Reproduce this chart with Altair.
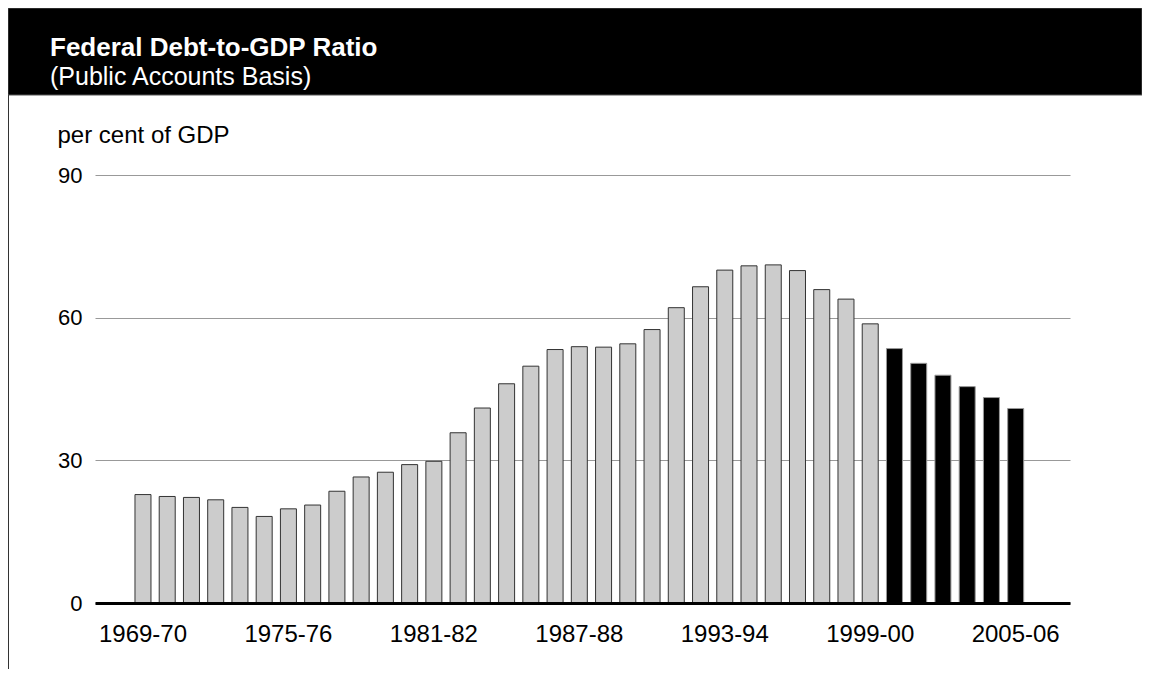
import altair as alt
import pandas as pd

years = ["1969-70", "1970-71", "1971-72", "1972-73", "1973-74", "1974-75",
         "1975-76", "1976-77", "1977-78", "1978-79", "1979-80", "1980-81",
         "1981-82", "1982-83", "1983-84", "1984-85", "1985-86", "1986-87",
         "1987-88", "1988-89", "1989-90", "1990-91", "1991-92", "1992-93",
         "1993-94", "1994-95", "1995-96", "1996-97", "1997-98", "1998-99",
         "1999-00", "2000-01", "2001-02", "2002-03", "2003-04", "2004-05",
         "2005-06"]
debt_ratio = [22.8, 22.4, 22.2, 21.7, 20.1, 18.2, 19.8, 20.6, 23.5, 26.5,
              27.5, 29.1, 29.8, 35.8, 41.0, 46.1, 49.8, 53.3, 53.9, 53.8,
              54.5, 57.5, 62.1, 66.5, 70.0, 70.9, 71.1, 69.9, 65.9, 63.9,
              58.7, 53.5, 50.4, 47.9, 45.5, 43.2, 40.9]
status = ["Actual"] * 31 + ["Projection"] * 6
tick_labels = ["1969-70", "1975-76", "1981-82", "1987-88", "1993-94",
               "1999-00", "2005-06"]
y_ticks = [0, 30, 60, 90]
# empty slots at both ends of the category axis (no bars drawn there)
x_domain = ["_pad_left"] + years + ["_pad_right"]

FONT = "Liberation Sans, Arial, Helvetica, sans-serif"

df = pd.DataFrame({"year": years, "ratio": debt_ratio, "status": status})
one = pd.DataFrame({"k": [0]})

bars = alt.Chart(df).mark_bar(strokeWidth=1).encode(
    x=alt.X("year:N",
            scale=alt.Scale(domain=x_domain, paddingInner=0.34, paddingOuter=0.78,
                            align=0.416),
            axis=alt.Axis(values=tick_labels, labelAngle=0, title=None, ticks=False,
                          tickSize=0, domainColor="black", domainWidth=3, grid=False,
                          labelFont=FONT, labelFontSize=24, labelColor="black",
                          labelPadding=19, zindex=1)),
    y=alt.Y("ratio:Q",
            scale=alt.Scale(domain=[0, 90], nice=False, zero=True),
            axis=alt.Axis(values=y_ticks, grid=True, gridColor="#999999", gridWidth=1,
                          domain=False, ticks=False, tickSize=0, labelPadding=13,
                          labelFont=FONT, labelFontSize=22, labelColor="black",
                          title="per cent of GDP", titleAngle=0, titleAlign="left",
                          titleBaseline="alphabetic", titleX=-38, titleY=-33,
                          titleFont=FONT, titleFontSize=24, titleFontWeight="normal",
                          titleColor="black", zindex=0)),
    color=alt.Color("status:N", scale=alt.Scale(domain=["Actual", "Projection"],
                                                range=["#cccccc", "#000000"]), legend=None),
    stroke=alt.Stroke("status:N", scale=alt.Scale(domain=["Actual", "Projection"],
                                                  range=["#333333", "#999999"]), legend=None),
)

header = alt.Chart(one).mark_rect(color="black", stroke="#555555", strokeWidth=1).encode(
    x=alt.value(-87), x2=alt.value(1047), y=alt.value(-167), y2=alt.value(-80))

title = alt.Chart(one).mark_text(text="Federal Debt-to-GDP Ratio", align="left",
                                 baseline="alphabetic", font=FONT, fontSize=26,
                                 fontWeight="bold", color="white").encode(
    x=alt.value(-45), y=alt.value(-119))

subtitle = alt.Chart(one).mark_text(text="(Public Accounts Basis)", align="left",
                                    baseline="alphabetic", font=FONT, fontSize=25,
                                    color="white").encode(
    x=alt.value(-45), y=alt.value(-90.5))

border = alt.Chart(one).mark_rule(color="#333333", strokeWidth=1).encode(
    x=alt.value(-86.5), y=alt.value(-80), y2=alt.value(494))

chart = alt.layer(header, title, subtitle, border, bars).properties(
    width=975, height=428,
    autosize=alt.AutoSizeParams(type="none"),
    padding={"left": 87, "top": 167, "right": 72, "bottom": 66},
    background="white",
).configure_view(stroke=None)

chart.save("out.html", embed_options={"renderer": "svg", "actions": False})
